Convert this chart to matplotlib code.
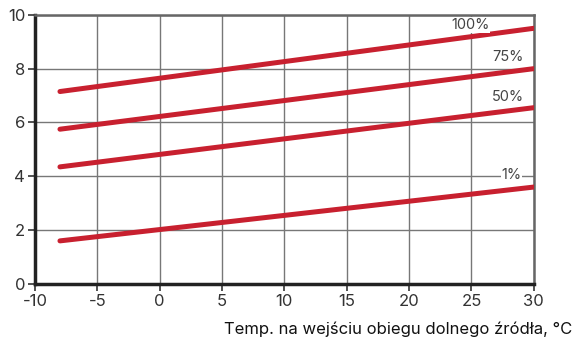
import matplotlib.pyplot as plt

plt.rcParams['font.family'] = ['Inter', 'DejaVu Sans']

temp = [-8, 30]
p100 = [7.15, 9.5]
p75 = [5.75, 8.0]
p50 = [4.35, 6.55]
p1 = [1.6, 3.6]
labels = ["100%", "75%", "50%", "1%"]
label_x = [24.9, 27.9, 27.9, 28.2]
label_y = [9.63, 8.44, 6.95, 4.05]

fig = plt.figure(figsize=(5.74, 3.45), dpi=100)
ax = fig.add_axes([0.061, 0.177, 0.869, 0.780])

red = '#c8202f'
for s in [p100, p75, p50, p1]:
    ax.plot(temp, s, color=red, lw=3.6, solid_capstyle='round', zorder=3)

for t, x, y in zip(labels, label_x, label_y):
    ax.text(x, y, t, fontsize=10.5, color='#444444', ha='center', va='center', zorder=4,
            bbox=dict(facecolor='white', edgecolor='none', pad=0.5))

ax.set_xlim(-10, 30)
ax.set_ylim(0, 10)
ax.set_xticks(range(-10, 31, 5))
ax.set_xticklabels(['-10', '-5', '0', '5', '10', '15', '20', '25', '30'])
ax.set_yticks(range(0, 11, 2))
ax.grid(True, color='#777777', lw=1)
ax.set_axisbelow(True)
ax.tick_params(labelsize=12, colors='#333333', length=5, width=1.2, pad=2)

ax.spines['left'].set_linewidth(2.5)
ax.spines['left'].set_color('#222222')
ax.spines['bottom'].set_linewidth(2.5)
ax.spines['bottom'].set_color('#222222')
for k in ['top', 'right']:
    ax.spines[k].set_linewidth(1.8)
    ax.spines[k].set_color('#666666')

fig.text(0.997, 0.045, "Temp. na wejściu obiegu dolnego źródła, °C", fontsize=12,
         ha='right', va='center', color='#111111')

fig.savefig('out.png', dpi=100)
